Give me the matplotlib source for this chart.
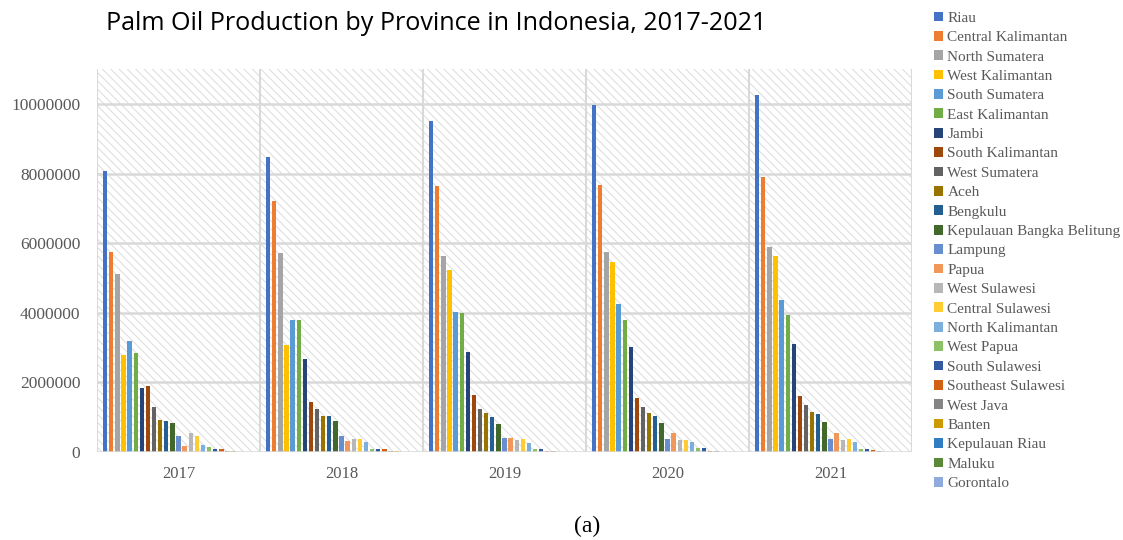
import numpy as np
import matplotlib
matplotlib.use("Agg")
import matplotlib.pyplot as plt
from matplotlib.patches import Rectangle

years = ["2017", "2018", "2019", "2020", "2021"]

provinces = [
    "Riau", "Central Kalimantan", "North Sumatera", "West Kalimantan",
    "South Sumatera", "East Kalimantan", "Jambi", "South Kalimantan",
    "West Sumatera", "Aceh", "Bengkulu", "Kepulauan Bangka Belitung",
    "Lampung", "Papua", "West Sulawesi", "Central Sulawesi",
    "North Kalimantan", "West Papua", "South Sulawesi", "Southeast Sulawesi",
    "West Java", "Banten", "Kepulauan Riau", "Maluku", "Gorontalo",
]

# production (tonnes) per province, one column per year 2017..2021
production = [
    [8070000, 8480000, 9500000, 9960000, 10270000],  # Riau
    [5750000, 7210000, 7650000, 7680000, 7900000],   # Central Kalimantan
    [5110000, 5720000, 5630000, 5750000, 5900000],   # North Sumatera
    [2780000, 3070000, 5220000, 5450000, 5620000],   # West Kalimantan
    [3180000, 3780000, 4030000, 4240000, 4360000],   # South Sumatera
    [2830000, 3780000, 3990000, 3800000, 3940000],   # East Kalimantan
    [1830000, 2670000, 2860000, 3010000, 3090000],   # Jambi
    [1910000, 1440000, 1650000, 1550000, 1600000],   # South Kalimantan
    [1290000, 1240000, 1240000, 1290000, 1340000],   # West Sumatera
    [910000, 1020000, 1110000, 1110000, 1160000],    # Aceh
    [880000, 1030000, 1010000, 1030000, 1080000],    # Bengkulu
    [830000, 880000, 800000, 830000, 850000],        # Kep. Bangka Belitung
    [470000, 470000, 390000, 370000, 360000],        # Lampung
    [160000, 320000, 410000, 550000, 550000],        # Papua
    [540000, 360000, 340000, 350000, 340000],        # West Sulawesi
    [450000, 360000, 360000, 340000, 360000],        # Central Sulawesi
    [210000, 290000, 260000, 290000, 290000],        # North Kalimantan
    [140000, 90000, 80000, 100000, 80000],           # West Papua
    [90000, 90000, 80000, 100000, 80000],            # South Sulawesi
    [90000, 90000, 30000, 20000, 50000],             # Southeast Sulawesi
    [20000, 30000, 15000, 15000, 15000],             # West Java
    [15000, 15000, 12000, 12000, 12000],             # Banten
    [10000, 10000, 8000, 8000, 8000],                # Kepulauan Riau
    [8000, 8000, 6000, 6000, 6000],                  # Maluku
    [5000, 5000, 4000, 4000, 4000],                  # Gorontalo
]

colors = [
    "#4472C4", "#ED7D31", "#A5A5A5", "#FFC000", "#5B9BD5", "#70AD47",
    "#264478", "#9E480E", "#636363", "#997300", "#255E91", "#43682B",
    "#698ED0", "#F1975A", "#B7B7B7", "#FFCD33", "#7CAFDD", "#8CC168",
    "#335AA1", "#D26012", "#848484", "#CC9A00", "#327DC2", "#5A8A39",
    "#8FAADC",
]

serif = ["Liberation Serif", "DejaVu Serif"]
label_gray = "#595959"
grid_gray = "#D9D9D9"

plt.rcParams["hatch.linewidth"] = 0.6

fig = plt.figure(figsize=(11.23, 5.40), dpi=100)
ax = fig.add_axes([0.0864, 0.163, 0.7257, 0.709])

# hatched plot area background
ax.add_patch(Rectangle((0, 0), 1, 1, transform=ax.transAxes, facecolor="white",
                       edgecolor="#D6D6D6", hatch="\\\\\\\\", linewidth=0, zorder=0))

x = np.arange(len(years))
n = len(provinces)
slot = 0.0375
width = 0.027
handles = []
for i, (name, vals) in enumerate(zip(provinces, production)):
    offs = (i - (n - 1) / 2) * slot
    b = ax.bar(x + offs, vals, width=width, color=colors[i], label=name, zorder=3)
    handles.append(b)

ax.set_xlim(-0.5, len(years) - 0.5)
ax.set_ylim(0, 11000000)
ax.set_yticks(np.arange(0, 10000001, 2000000))
ax.set_yticklabels([f"{int(v)}" for v in np.arange(0, 10000001, 2000000)])
ax.set_xticks(x)
ax.set_xticklabels(years)

for yv in np.arange(2000000, 10000001, 2000000):
    ax.axhline(yv, color=grid_gray, lw=1.8, zorder=1)
for xv in np.arange(-0.5, len(years), 1.0):
    ax.axvline(xv, color=grid_gray, lw=1.5, zorder=1)
ax.axhline(0, color=grid_gray, lw=1.8, zorder=4)

for s in ax.spines.values():
    s.set_visible(False)
ax.tick_params(axis="both", length=0, colors=label_gray)
ax.tick_params(axis="x", pad=10, labelsize=12)
ax.tick_params(axis="y", pad=12, labelsize=12.5)
for lab in ax.get_xticklabels() + ax.get_yticklabels():
    lab.set_family(serif)

leg = fig.legend(handles=handles, loc="upper left", bbox_to_anchor=(0.826, 0.99),
                 frameon=False, prop={"family": serif, "size": 11},
                 handlelength=0.6, handleheight=0.6, handletextpad=0.3,
                 labelspacing=0.403, borderaxespad=0)
for t in leg.get_texts():
    t.set_color(label_gray)

fig.text(0.094, 0.956, "Palm Oil Production by Province in Indonesia, 2017-2021",
         fontsize=18.1, family="Open Sans", color="black", va="center", ha="left")
fig.text(0.523, 0.026, "(a)", fontsize=17, family=serif, color="black",
         ha="center", va="center")

fig.savefig("out.png", dpi=100)
